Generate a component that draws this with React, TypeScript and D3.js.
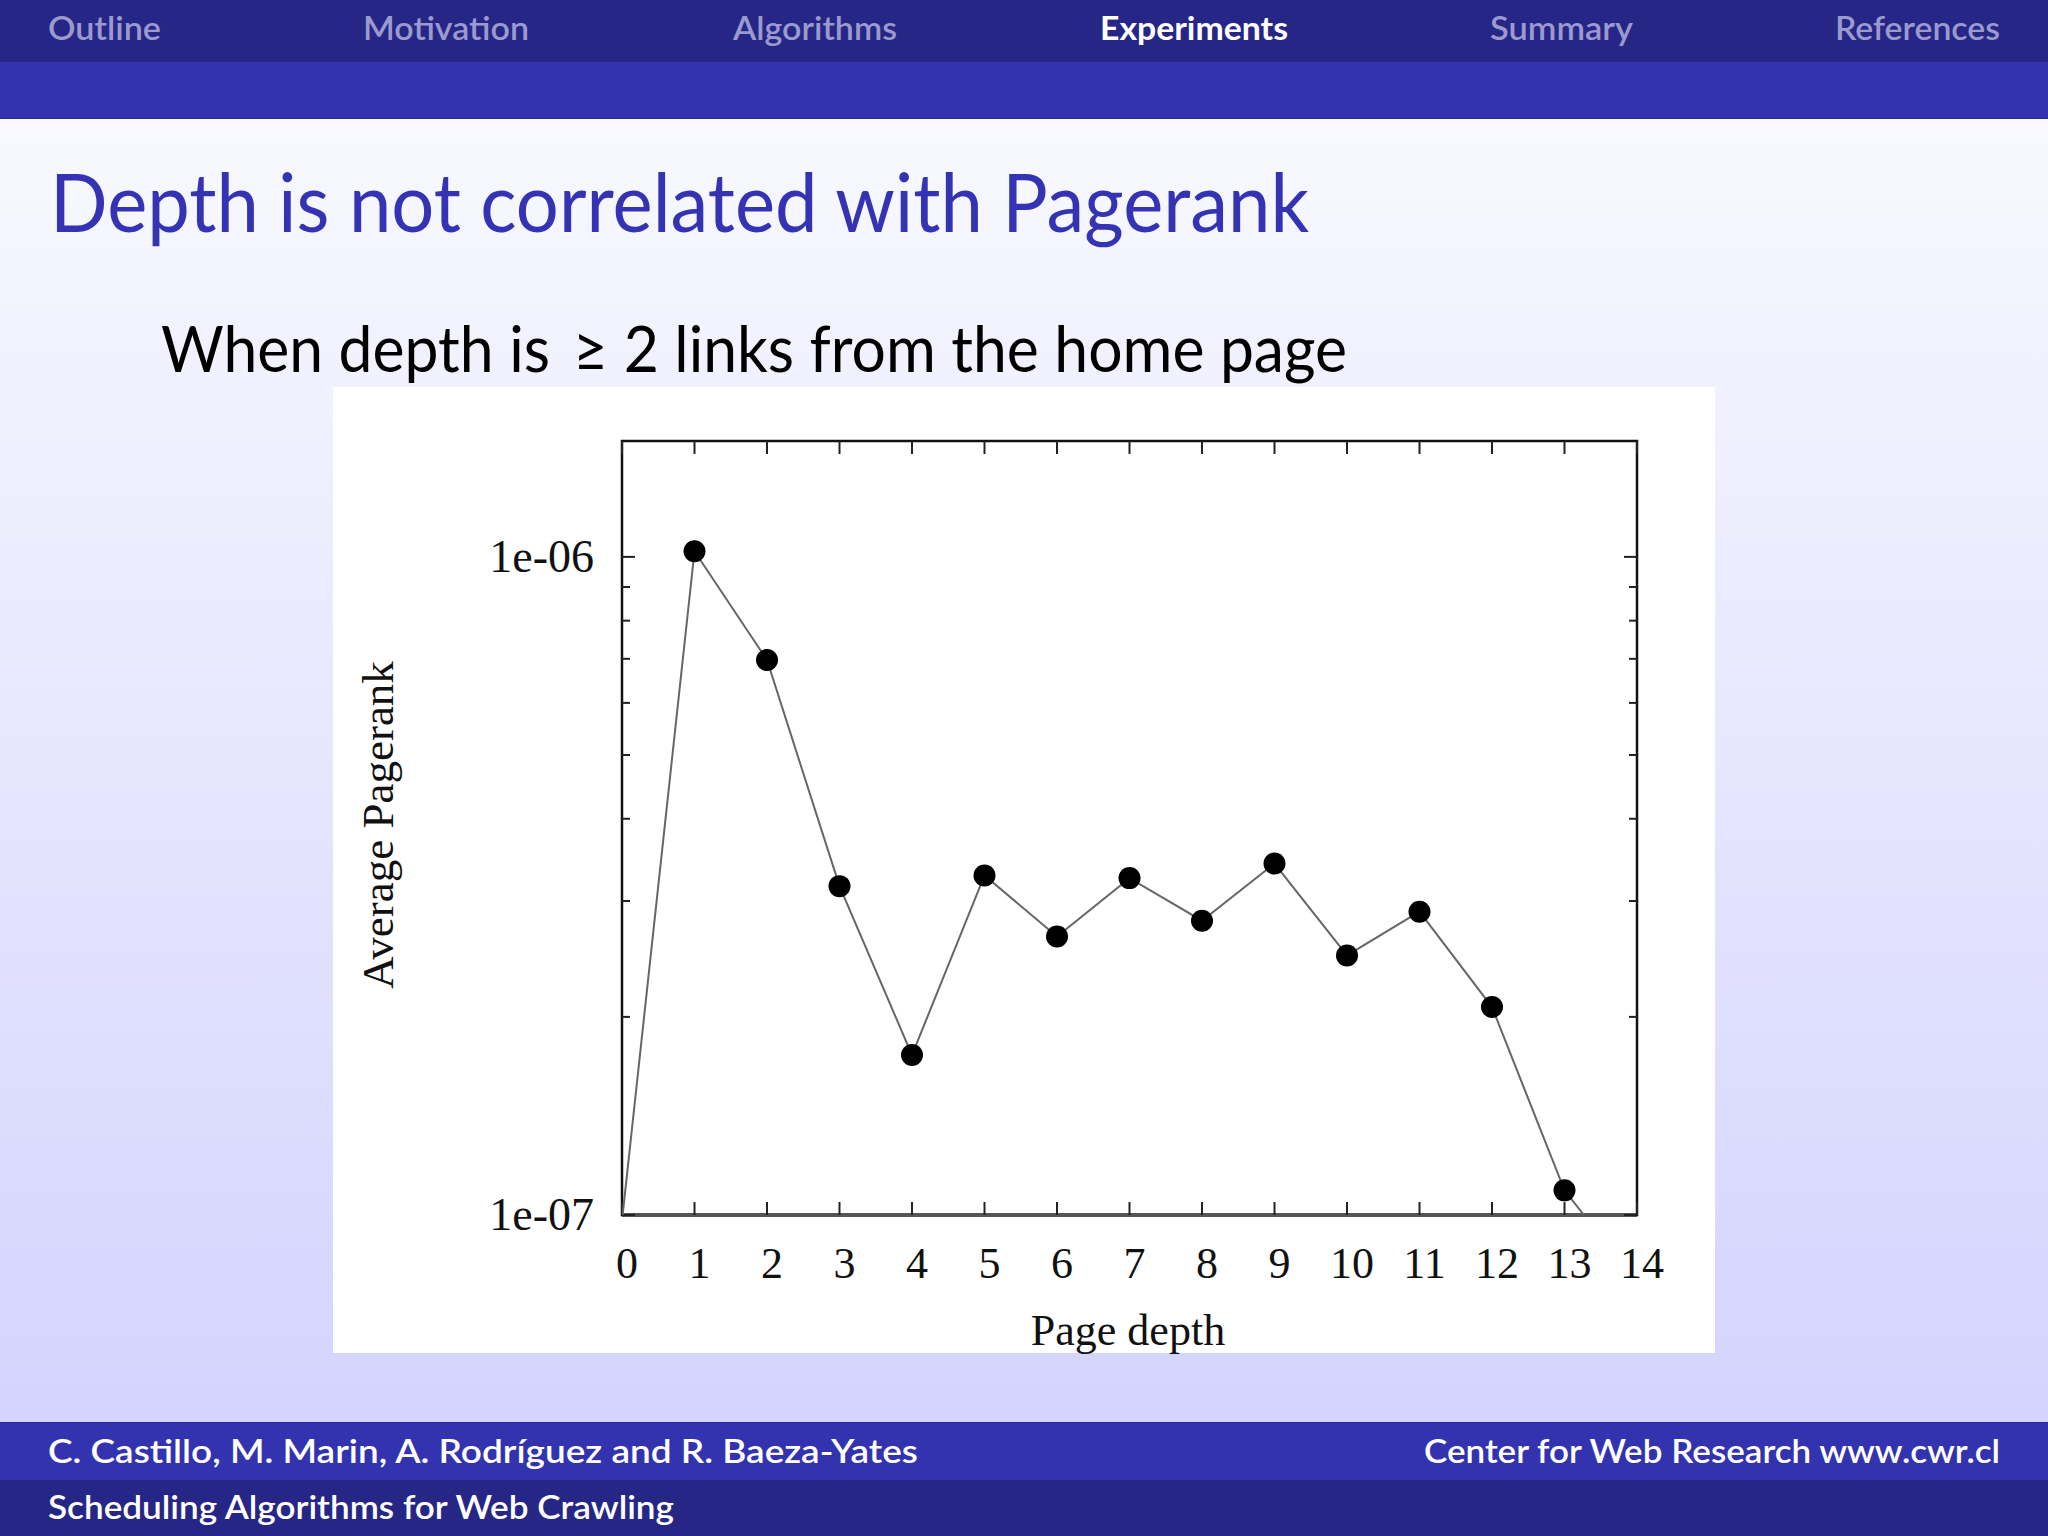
import React from "react";
import * as d3 from "d3";

const navItems = ["Outline", "Motivation", "Algorithms", "Experiments", "Summary", "References"];
const activeNav = "Experiments";
const navStart = [48, 363, 733, 1100, 1490, 1835];
const navWidth = [113, 166, 164, 188, 143, 165];

const depths = [0, 1, 2, 3, 4, 5, 6, 7, 8, 9, 10, 11, 12, 13, 14];
const avgPagerank = [9.8e-8, 1.02e-6, 6.97e-7, 3.16e-7, 1.75e-7, 3.28e-7, 2.65e-7, 3.25e-7, 2.8e-7, 3.42e-7, 2.48e-7, 2.89e-7, 2.07e-7, 1.09e-7, 7.9e-8];
const xTicks = [0, 1, 2, 3, 4, 5, 6, 7, 8, 9, 10, 11, 12, 13, 14];
const yMajorTicks = [1e-7, 1e-6];
const yMajorLabels = ["1e-07", "1e-06"];
const yMinorTicks = [2e-7, 3e-7, 4e-7, 5e-7, 6e-7, 7e-7, 8e-7, 9e-7];

const titleText = "Depth is not correlated with Pagerank";
const subtitleText = "When depth is \u2009\u2265 2 links from the home page";
const footerLeft1 = "C. Castillo, M. Marin, A. Rodríguez and R. Baeza-Yates";
const footerRight1 = "Center for Web Research www.cwr.cl";
const footerLeft2 = "Scheduling Algorithms for Web Crawling";

export default function App() {
  const W = 2048, H = 1536;
  const L = 622, R = 1637, T = 441, B = 1215;
  const x = d3.scaleLinear().domain([0, 14]).range([L, R]);
  const y = d3.scaleLog().domain([1e-7, 1.5e-6]).range([B, T]);
  const pts = depths.map((d, i) => [d, avgPagerank[i]] as [number, number]);
  const [yLo, yHi] = y.domain();
  const visiblePts = pts.filter(p => p[1] >= yLo && p[1] <= yHi);
  const line = d3.line<[number, number]>().x(d => x(d[0])).y(d => y(d[1]));
  const sans = "Lato, 'Open Sans', 'DejaVu Sans', sans-serif";
  const serif = "'Liberation Serif', 'DejaVu Serif', serif";
  const majorLen = 13, minorLen = 8;

  return (
    <svg width={W} height={H} style={{ position: "absolute", left: 0, top: 0 }} xmlns="http://www.w3.org/2000/svg">
      <defs>
        <linearGradient id="bg" x1="0" y1="0" x2="0" y2="1">
          <stop offset="0" stopColor="#FCFCFF" />
          <stop offset="1" stopColor="#D0D0FE" />
        </linearGradient>
        <clipPath id="plotClip">
          <rect x={L} y={T} width={R - L} height={B - T} />
        </clipPath>
      </defs>
      <rect x={0} y={0} width={W} height={H} fill="url(#bg)" />
      {/* header */}
      <rect x={0} y={0} width={W} height={62} fill="#262686" />
      <rect x={0} y={62} width={W} height={57} fill="#3333B0" />
      <line x1={0} x2={W} y1={118.5} y2={118.5} stroke="#2A2A95" strokeWidth={1} />
      {navItems.map((n, i) => (
        <text key={n} x={navStart[i]} y={40} fontFamily={sans} fontSize={32}
          fill={n === activeNav ? "#FFFFFF" : "#9A9ACF"} fontWeight={n === activeNav ? 700 : 600}
          textLength={navWidth[i]} lengthAdjust="spacingAndGlyphs">{n}</text>
      ))}
      {/* title */}
      <text x={50} y={232} fontFamily={sans} fontSize={82} fill="#3333B3" textLength={1259} lengthAdjust="spacingAndGlyphs">{titleText}</text>
      <text x={161} y={372} fontFamily={sans} fontSize={64} fill="#000" textLength={1186} lengthAdjust="spacingAndGlyphs">{subtitleText}</text>
      {/* chart image background */}
      <rect x={333} y={387} width={1382} height={966} fill="#FFFFFF" />
      {/* frame */}
      <rect x={L} y={T} width={R - L} height={B - T} fill="none" stroke="#111" strokeWidth={2.5} />
      <line x1={L} x2={R} y1={B} y2={B} stroke="#555" strokeWidth={4} />
      {/* x ticks */}
      {xTicks.map(t => (
        <g key={"xt" + t}>
          <line x1={x(t)} x2={x(t)} y1={B} y2={B - majorLen} stroke="#222" strokeWidth={2} />
          <line x1={x(t)} x2={x(t)} y1={T} y2={T + majorLen} stroke="#222" strokeWidth={2} />
          <text x={x(t) + 5} y={1278} textAnchor="middle" fontFamily={serif} fontSize={44} fill="#111">{t}</text>
        </g>
      ))}
      {/* y ticks */}
      {yMajorTicks.map((t, i) => (
        <g key={"ym" + t}>
          <line x1={L} x2={L + majorLen} y1={y(t)} y2={y(t)} stroke="#222" strokeWidth={2} />
          <line x1={R} x2={R - majorLen} y1={y(t)} y2={y(t)} stroke="#222" strokeWidth={2} />
          <text x={594} y={y(t) + 15} textAnchor="end" fontFamily={serif} fontSize={46} fill="#111">{yMajorLabels[i]}</text>
        </g>
      ))}
      {yMinorTicks.map(t => (
        <g key={"yn" + t}>
          <line x1={L} x2={L + minorLen} y1={y(t)} y2={y(t)} stroke="#222" strokeWidth={2} />
          <line x1={R} x2={R - minorLen} y1={y(t)} y2={y(t)} stroke="#222" strokeWidth={2} />
        </g>
      ))}
      {/* axis titles */}
      <text x={1128} y={1345} textAnchor="middle" fontFamily={serif} fontSize={44} fill="#111">Page depth</text>
      <text transform={`translate(393, 825) rotate(-90)`} textAnchor="middle" fontFamily={serif} fontSize={45} fill="#111">Average Pagerank</text>
      {/* data */}
      <g clipPath="url(#plotClip)">
        <path d={line(pts) || ""} fill="none" stroke="#666" strokeWidth={2} />
        {visiblePts.map(p => (
          <circle key={"p" + p[0]} cx={x(p[0])} cy={y(p[1])} r={11} fill="#000" />
        ))}
      </g>
      {/* footer */}
      <line x1={0} x2={W} y1={1422.5} y2={1422.5} stroke="#2A2A95" strokeWidth={1} />
      <rect x={0} y={1423} width={W} height={57} fill="#3333B0" />
      <rect x={0} y={1480} width={W} height={56} fill="#262686" />
      <text x={48} y={1463} fontFamily={sans} fontSize={32} fill="#FFF" fontWeight={600} textLength={870} lengthAdjust="spacingAndGlyphs">{footerLeft1}</text>
      <text x={2000} y={1463} textAnchor="end" fontFamily={sans} fontSize={32} fill="#FFF" fontWeight={600} textLength={576} lengthAdjust="spacingAndGlyphs">{footerRight1}</text>
      <text x={48} y={1519} fontFamily={sans} fontSize={32} fill="#FFF" fontWeight={600} textLength={626} lengthAdjust="spacingAndGlyphs">{footerLeft2}</text>
    </svg>
  );
}
